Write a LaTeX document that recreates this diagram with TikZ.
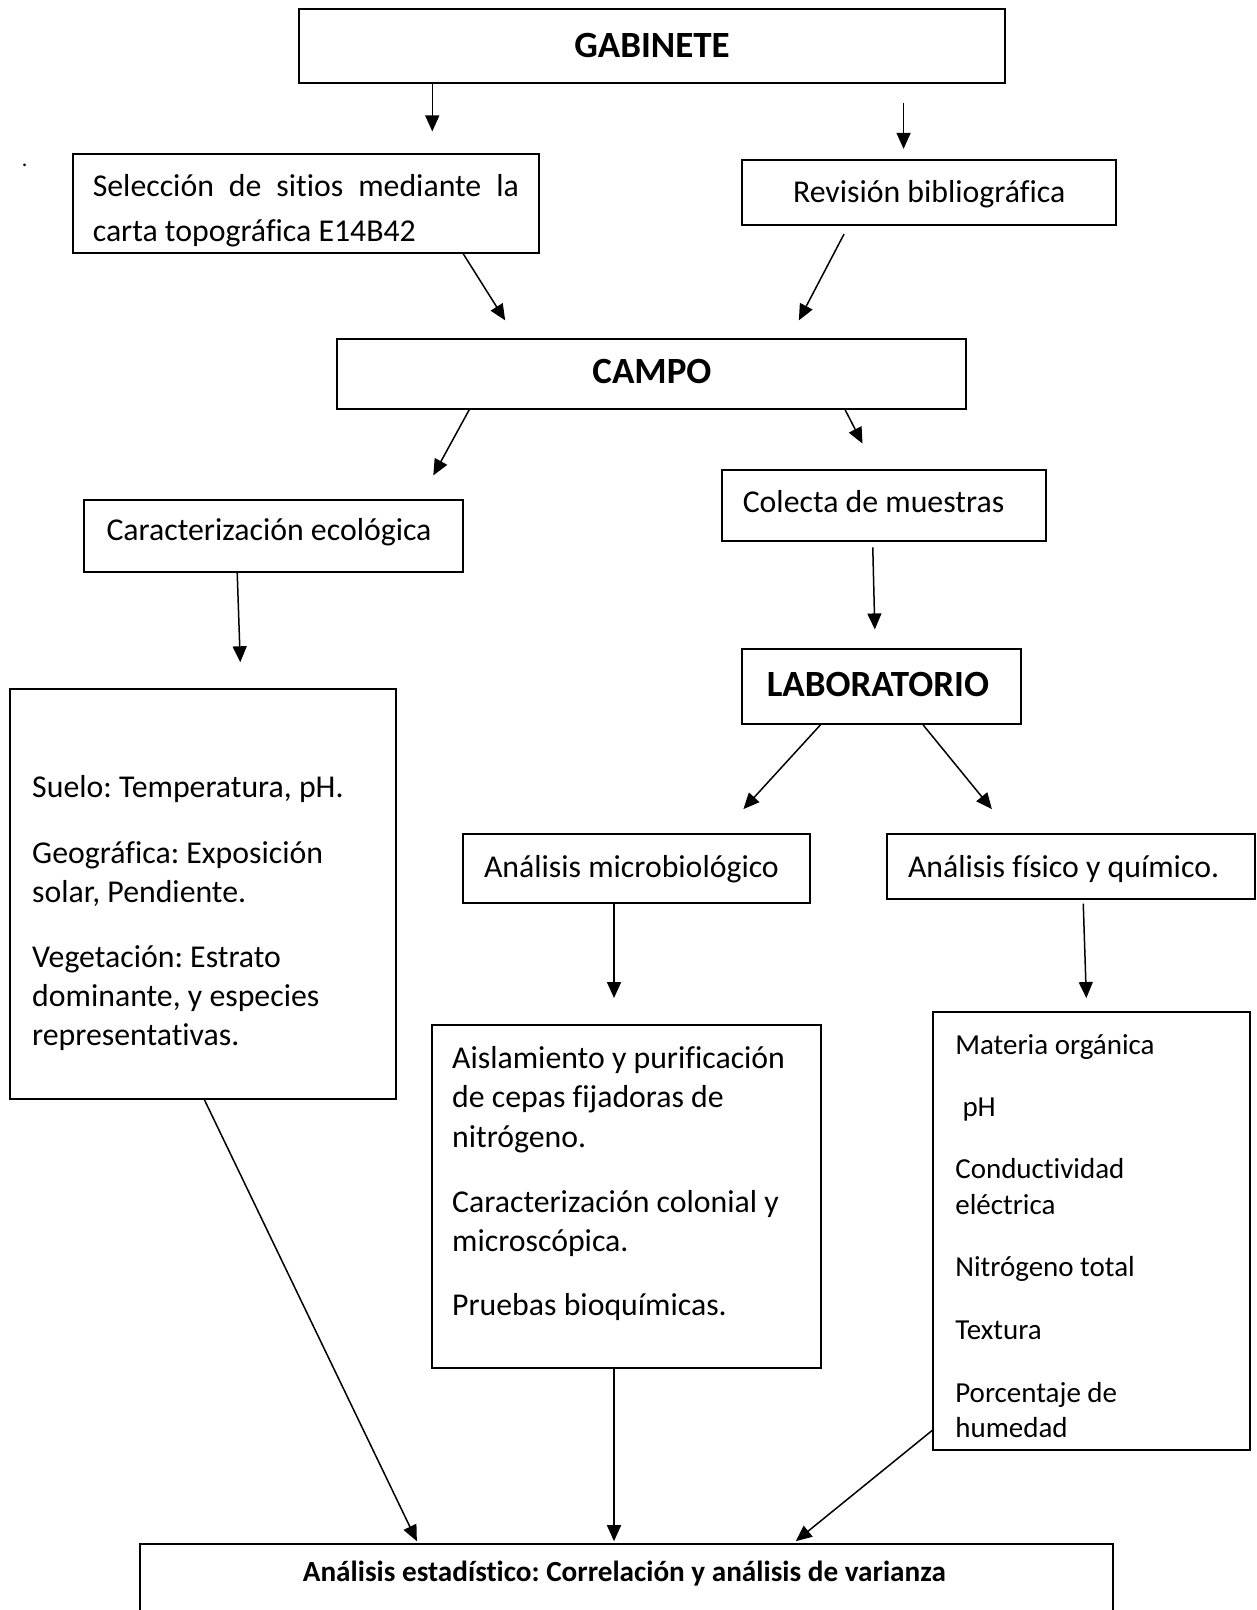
\documentclass[tikz,border=0pt]{standalone}
\usepackage{fontspec}
\setmainfont{Carlito}[Ligatures=NoCommon]
\frenchspacing
\usetikzlibrary{arrows.meta,calc,fit}
\tikzset{
  box/.style={draw, line width=1pt, inner sep=0pt},
  txt/.style={inner sep=0pt, font=\fontsize{15.9}{19.5}\selectfont},
  stxt/.style={inner sep=0pt, font=\fontsize{14.5}{18}\selectfont},
  ttl/.style={inner sep=0pt, font=\fontsize{18.5}{22}\selectfont\bfseries},
  conn/.style={line width=0.75pt, -{Triangle[length=8pt,width=7pt]}}
}
\begin{document}
\begin{tikzpicture}[x=0.5135pt,y=-0.5135pt]
\useasboundingbox (0,0) rectangle (1224,1568);
% boxes
\node[box, fit={(291,9) (979,81)}] (gab) {};
\node[box, fit={(71,150) (525,246)}] (sel) {};
\node[box, fit={(723,156) (1087,219)}] (rev) {};
\node[box, fit={(328,330) (941,398)}] (campo) {};
\node[box, fit={(82,487) (451,557)}] (car) {};
\node[box, fit={(703,458) (1019,527)}] (col) {};
\node[box, fit={(723,632) (994,705)}] (lab) {};
\node[box, fit={(10,671) (386,1070)}] (suelo) {};
\node[box, fit={(451,812) (789,879)}] (micro) {};
\node[box, fit={(864,812) (1222,876)}] (fis) {};
\node[box, fit={(421,998) (800,1332)}] (ais) {};
\node[box, fit={(909,986) (1217,1412)}] (mat) {};
\node[box, fit={(136,1504) (1084,1590)}] (est) {};
% texts
\node[ttl] (tgab) at (635,44) {GABINETE};
\node[ttl] (tcampo) at (635,362) {CAMPO};
\node[ttl] (tlab) at (855,667) {LABORATORIO};
\node[txt, anchor=mid west] (tsel1) at (90,187) {\makebox[213.1pt][s]{Selección de sitios mediante la}};
\begin{scope}
\clip (71,150) rectangle (525,245);
\node[txt, anchor=mid west] (tsel2) at (90,231) {carta topográfica E14B42};
\end{scope}
\node[txt, anchor=mid] (trev) at (905,193) {Revisión bibliográfica};
\node[txt, anchor=mid] (tcar) at (262,522) {Caracterización ecológica};
\node[txt, anchor=mid west] (tcol) at (723,494) {Colecta de muestras};
\node[txt, anchor=mid] (tmicro) at (615,850) {Análisis microbiológico};
\node[txt, anchor=mid west] (tfis) at (884,850) {Análisis físico y químico.};
\foreach \t/\yy [count=\i] in {{Suelo: Temperatura, pH.}/772, {Geográfica: Exposición}/836, {solar, Pendiente.}/874, {Vegetación: Estrato}/938, {dominante, y especies}/976, {representativas.}/1014}
  \node[txt, anchor=mid west] (su\i) at (31,\yy) {\t};
\foreach \t/\yy [count=\i] in {{Aislamiento y purificación}/1036, {de cepas fijadoras de}/1074, {nitrógeno.}/1113, {Caracterización colonial y}/1176, {microscópica.}/1214, {Pruebas bioquímicas.}/1277}
  \node[txt, anchor=mid west] (ai\i) at (440,\yy) {\t};
\foreach \t/\xx/\yy [count=\i] in {{Materia orgánica}/930/1022, {pH}/937/1083, {Conductividad}/930/1143, {eléctrica}/930/1178, {Nitrógeno total}/930/1239, {Textura}/930/1300, {Porcentaje de}/930/1361, {humedad}/930/1395}
  \node[stxt, anchor=mid west] (ma\i) at (\xx,\yy) {\t};
\node[inner sep=0pt, font=\fontsize{14.6}{17}\selectfont\bfseries, anchor=base] (test) at (608,1540) {Análisis estadístico: Correlación y análisis de varianza};
\node[inner sep=0pt, font=\fontsize{11}{12}\selectfont] (dot) at (24,161) {.};
% connector ends
\coordinate (a1) at (421,128);
\coordinate (a2s) at (880,100);
\coordinate (a2) at (880,145);
\coordinate (a3) at (492,312);
\coordinate (a4s) at (822,228);
\coordinate (a4) at (778,312);
\coordinate (a5) at (422,463);
\coordinate (a6) at (840,432);
\coordinate (a7) at (234,645);
\coordinate (a8s) at (850,533);
\coordinate (a8) at (852,613);
\coordinate (a9) at (724,788);
\coordinate (a10) at (966,788);
\coordinate (a11) at (598,972);
\coordinate (a12s) at (1055,880);
\coordinate (a12) at (1058,972);
\coordinate (a13) at (406,1501);
\coordinate (a14) at (598,1501);
\coordinate (a15) at (775,1501);
% connectors
\draw[conn] (a1 |- gab.south) -- (a1);
\draw[conn] (a2s) -- (a2);
\draw[conn] ($(sel.south west)+(381,0)$) -- (a3);
\draw[conn] (a4s) -- (a4);
\draw[conn] ($(campo.south west)+(130,0)$) -- (a5);
\draw[conn] ($(campo.south west)+(496,0)$) -- (a6);
\draw[conn] ($(car.south west)+(150,0)$) -- (a7);
\draw[conn] (a8s) -- (a8);
\draw[conn] ($(lab.south west)+(77,0)$) -- (a9);
\draw[conn] ($(lab.south west)+(177,0)$) -- (a10);
\draw[conn] (a11 |- micro.south) -- (a11);
\draw[conn] (a12s) -- (a12);
\draw[conn] ($(suelo.south west)+(190,0)$) -- (a13);
\draw[conn] (a14 |- ais.south) -- (a14);
\draw[conn] ($(mat.south west)+(0,-20)$) -- (a15);
\end{tikzpicture}
\end{document}
